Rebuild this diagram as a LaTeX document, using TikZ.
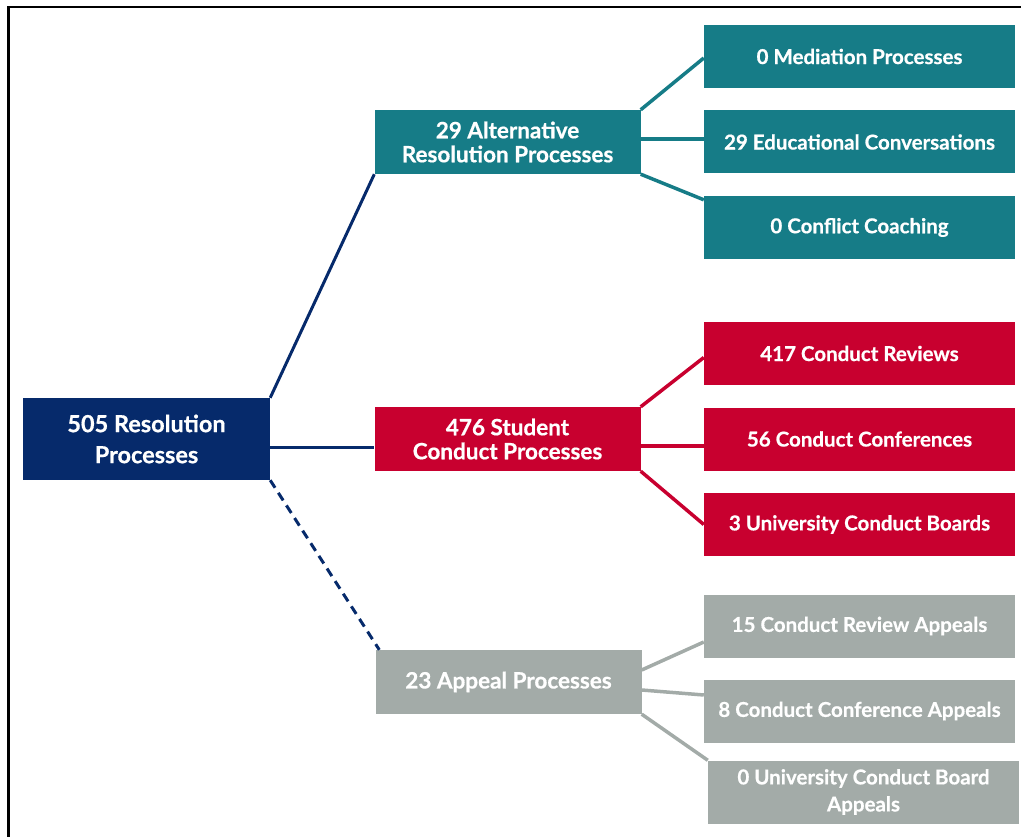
\documentclass[tikz,border=0pt]{standalone}
\usepackage{fontspec}
\setmainfont{Lato}[UprightFont=* Bold, UprightFeatures={FakeBold=0.6}]
\usetikzlibrary{calc}
\definecolor{navy}{HTML}{062A6B}
\definecolor{teal}{HTML}{167C87}
\definecolor{crim}{HTML}{C8002F}
\definecolor{grayb}{HTML}{A3ABA8}
\tikzset{
  box/.style={rectangle, inner sep=0pt, text=white, align=center},
  rootbox/.style={box, fill=navy, minimum width=247pt, minimum height=82pt,
     font=\fontsize{23.5}{31}\selectfont},
  midbox/.style={box, minimum width=266pt, minimum height=64pt,
     font=\fontsize{22.5}{24}\selectfont},
  leafbox/.style={box, minimum width=311pt, minimum height=63pt,
     font=\fontsize{20.5}{27}\selectfont},
  rootline/.style={draw=navy, line width=3pt},
  leafline/.style={line width=3.5pt},
}
\begin{document}
\begin{tikzpicture}[x=1pt,y=-1pt]
\useasboundingbox (0,0) rectangle (1021,837);
\draw[line width=2.5pt] (8.5,845) -- (8.5,7) -- (1030,7);

\node[rootbox] (root) at (146.5,439) {505 Resolution\\Processes};

\node[midbox, fill=teal] (alt) at (507.5,142) {29 Alternative\\Resolution Processes};
\node[midbox, fill=crim] (stu) at (507.5,439) {476 Student\\Conduct Processes};
\node[midbox, fill=grayb] (app) at (508.5,682) {23 Appeal Processes};

\node[leafbox, fill=teal] (med) at (859.5,56.5) {0 Mediation Processes};
\node[leafbox, fill=teal] (edu) at (859.5,142) {29 Educational Conversations};
\node[leafbox, fill=teal] (coa) at (859.5,227.5) {0 Conflict Coaching};

\node[leafbox, fill=crim] (rev) at (859.5,353.5) {417 Conduct Reviews};
\node[leafbox, fill=crim] (conf) at (859.5,439) {56 Conduct Conferences};
\node[leafbox, fill=crim] (ucb) at (859.5,524.5) {3 University Conduct Boards};

\node[leafbox, fill=grayb] (cra) at (859.5,626) {15 Conduct Review Appeals};
\node[leafbox, fill=grayb] (cca) at (859.5,711) {8 Conduct Conference Appeals};
\node[leafbox, fill=grayb] (uca) at (863.5,792) {0 University Conduct Board\\Appeals};

% root connectors
\draw[rootline] (root.north east) -- (alt.south west);
\draw[rootline] ($(root.east)+(0,8)$) -- ($(stu.west)+(0,8)$);
\draw[rootline, dash pattern=on 9pt off 6pt] (root.south east) -- ($(app.north west)+(4,0)$);

% teal connectors
\draw[leafline, draw=teal] (alt.north east) -- ($(med.west)+(0,1.5)$);
\draw[leafline, draw=teal] ($(alt.east)+(0,-3)$) -- ($(edu.west)+(0,-3)$);
\draw[leafline, draw=teal] (alt.south east) -- ($(coa.north west)+(0,4)$);

% red connectors
\draw[leafline, draw=crim] (stu.north east) -- ($(rev.west)+(0,4)$);
\draw[leafline, draw=crim] ($(stu.east)+(0,7)$) -- ($(conf.west)+(0,7)$);
\draw[leafline, draw=crim] (stu.south east) -- (ucb.west);

% gray connectors
\draw[leafline, draw=grayb] ($(app.east)+(0,-12)$) -- ($(cra.west)+(0,16)$);
\draw[leafline, draw=grayb] ($(app.east)+(0,8)$) -- ($(cca.west)+(0,-16)$);
\draw[leafline, draw=grayb] (app.south east) -- (uca.north west);
\end{tikzpicture}
\end{document}
